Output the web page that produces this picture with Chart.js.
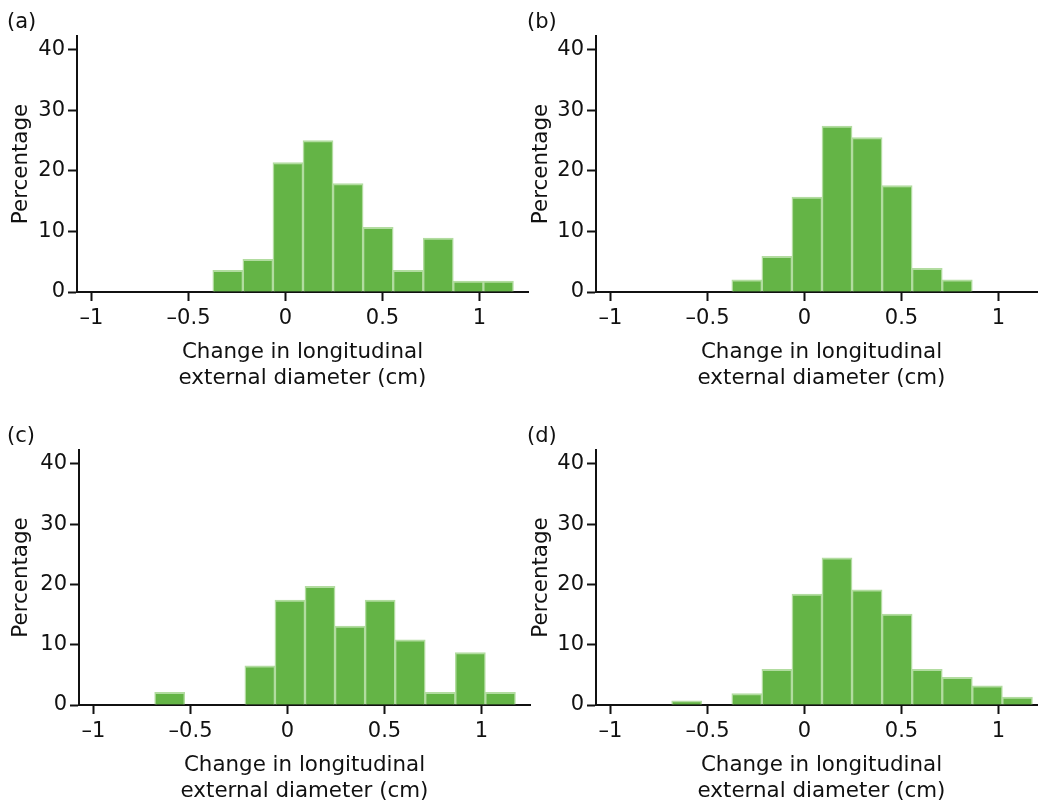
<!DOCTYPE html>
<html>
<head>
<meta charset="utf-8">
<script src="https://cdn.jsdelivr.net/npm/chart.js@4.4.1/dist/chart.umd.min.js"></script>
<style>
  html, body { margin: 0; padding: 0; background: #fff; }
  body { width: 1038px; height: 803px; position: relative; overflow: hidden; }
  canvas { position: absolute; }
  .tag { position: absolute; font: 21px "DejaVu Sans", sans-serif; color: #111; }
</style>
</head>
<body>
<script>
// bin centres (cm), bin width ~0.155
const binCenters = [-0.6075, -0.4525, -0.2975, -0.1425, 0.0125, 0.1675, 0.3225, 0.4775, 0.6325, 0.7875, 0.9425, 1.0975];

// percentage per bin
const pctA = [0, 0, 3.6, 5.4, 21.4, 25.0, 17.9, 10.7, 3.6, 8.9, 1.8, 1.8];
const pctB = [0, 0, 2.0, 5.9, 15.7, 27.4, 25.5, 17.6, 3.9, 2.0, 0, 0];
const pctC = [2.1, 0, 0, 6.5, 17.4, 19.7, 13.1, 17.4, 10.8, 2.1, 8.7, 2.1];
const pctD = [0.7, 0, 1.9, 5.9, 18.4, 24.4, 19.1, 15.1, 5.9, 4.6, 3.2, 1.3];

const xTicks = [-1, -0.5, 0, 0.5, 1];
const yTicks = [0, 10, 20, 30, 40];

const xTitle = ['Change in longitudinal', 'external diameter (cm)'];
const yTitle = 'Percentage';

const FONT = '"DejaVu Sans", sans-serif';
const FS = 21;        // tick labels
const FS_TITLE = 21.4; // axis titles
const W = 540, H = 410;
const PLOT_W = 451;

const panels = [
  { tag: '(a)', values: pctA, left: 0,   top: 0,   axisX: 77,  axisTop: 36,  zeroY: 292, tagY: 9 },
  { tag: '(b)', values: pctB, left: 520, top: 0,   axisX: 596, axisTop: 36,  zeroY: 292, tagY: 9 },
  { tag: '(c)', values: pctC, left: 0,   top: 410, axisX: 79,  axisTop: 450, zeroY: 705, tagY: 423 },
  { tag: '(d)', values: pctD, left: 520, top: 410, axisX: 596, axisTop: 450, zeroY: 705, tagY: 423 }
];

function fmtTick(v) {
  return v < 0 ? '\u2013' + Math.abs(v) : String(v);
}

panels.forEach(p => {
  const canvas = document.createElement('canvas');
  canvas.width = W;
  canvas.height = H;
  canvas.style.left = p.left + 'px';
  canvas.style.top = p.top + 'px';
  document.body.appendChild(canvas);

  const tag = document.createElement('div');
  tag.className = 'tag';
  tag.textContent = p.tag;
  tag.style.left = (p.left + 7) + 'px';
  tag.style.top = p.tagY + 'px';
  document.body.appendChild(tag);

  const chartLeft = p.axisX - p.left;
  const chartTop = p.axisTop - p.top;
  const chartBottom = p.zeroY - p.top;
  const titleLH = 26;
  const titlePadBottom = Math.max(0, H - chartBottom - 86 - titleLH / 2);

  new Chart(canvas.getContext('2d'), {
    type: 'bar',
    data: {
      datasets: [{
        data: binCenters.map((x, i) => ({ x: x, y: p.values[i] })),
        backgroundColor: '#64b446',
        borderColor: '#b2dca0',
        borderWidth: { top: 2, left: 1.5, right: 1.5, bottom: 0 },
        borderSkipped: 'start',
        barPercentage: 1,
        categoryPercentage: 1
      }]
    },
    options: {
      responsive: false,
      animation: false,
      layout: { padding: { left: 0, top: chartTop, right: W - chartLeft - PLOT_W, bottom: 0 } },
      plugins: { legend: { display: false }, tooltip: { enabled: false } },
      scales: {
        x: {
          type: 'linear',
          min: -1.075,
          max: 1.25,
          offset: false,
          afterBuildTicks: s => { s.ticks = xTicks.map(v => ({ value: v })); },
          afterFit: s => { s.height = H - chartBottom; },
          grid: { offset: false, drawOnChartArea: false, drawTicks: true, tickLength: 9, tickWidth: 2, tickColor: '#111' },
          border: { display: true, color: '#111', width: 2 },
          ticks: { callback: fmtTick, color: '#111', font: { family: FONT, size: FS }, padding: 5, maxRotation: 0, autoSkip: false },
          title: { display: true, text: xTitle, color: '#111', font: { family: FONT, size: FS_TITLE, lineHeight: titleLH / FS_TITLE }, padding: { top: 0, bottom: titlePadBottom } }
        },
        y: {
          min: 0,
          max: 42.3,
          afterBuildTicks: s => { s.ticks = yTicks.map(v => ({ value: v })); },
          afterFit: s => { s.width = chartLeft; },
          grid: { drawOnChartArea: false, drawTicks: true, tickLength: 9, tickWidth: 2, tickColor: '#111' },
          border: { display: true, color: '#111', width: 2 },
          ticks: { color: '#111', font: { family: FONT, size: FS }, padding: 3 },
          title: { display: true, text: yTitle, color: '#111', font: { family: FONT, size: FS_TITLE, lineHeight: 1.2 }, padding: { top: 9, bottom: 0 } }
        }
      }
    }
  });
});
</script>
</body>
</html>
